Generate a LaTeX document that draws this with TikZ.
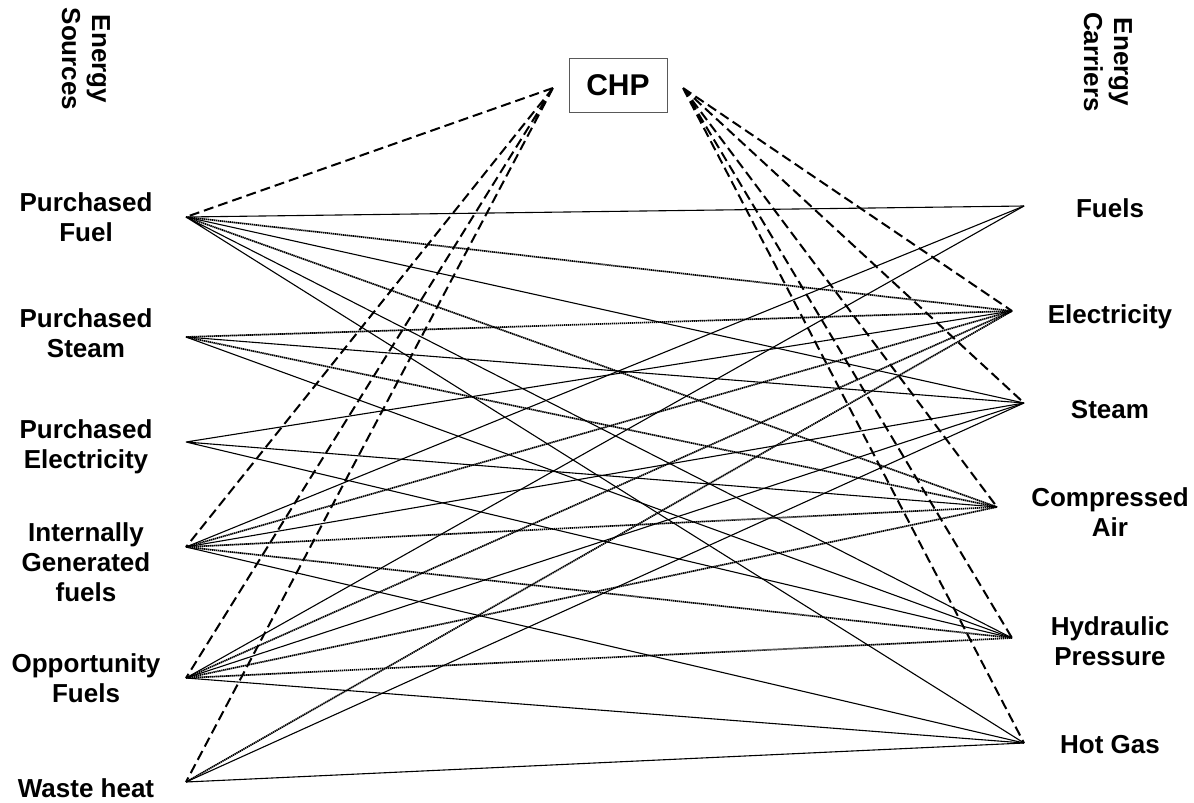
\documentclass[tikz,border=0pt]{standalone}
\usepackage{fontspec}
\setmainfont{Liberation Sans}
\usepackage{tikz}
\tikzstyle{item}=[align=center, font=\fontsize{26}{30}\selectfont\bfseries, inner sep=0pt]
\tikzstyle{heading}=[item, rotate=-90]
\tikzstyle{direct}=[line width=1.1pt]
\tikzstyle{converted}=[line width=1.7pt, dash pattern=on 1.4pt off .6pt]
\tikzstyle{cogen}=[line width=2pt, dash pattern=on 10pt off 5pt]

\begin{document}
\begin{tikzpicture}[x=1pt,y=-1pt]
    \useasboundingbox (0,0) rectangle (1194,803);

    % Headings
    \node[heading] (sources) at (86,59) {Energy\\Sources};
    \node[heading] (carriers) at (1108,62) {Energy\\Carriers};

    % CHP
    \node[item, draw=black!65, line width=1pt, minimum width=98pt, minimum height=54pt,
      font=\fontsize{30}{34}\selectfont\bfseries] (chp) at (618,85) {CHP};
    \coordinate (chp west) at (553,88);
    \coordinate (chp east) at (683,88);

    % Sources
    \node[item] (pf label) at (86,217) {Purchased\\Fuel};
    \node[item] (ps label) at (86,333) {Purchased\\Steam};
    \node[item] (pe label) at (86,447) {Purchased\\Electricity};
    \node[item] (ig label) at (86,562) {Internally\\Generated\\fuels};
    \node[item] (of label) at (86,678) {Opportunity\\Fuels};
    \node[item] (wh label) at (86,788) {Waste heat};
    \coordinate (pf) at (186,217);
    \coordinate (ps) at (186,337);
    \coordinate (pe) at (186,442);
    \coordinate (ig) at (186,547);
    \coordinate (of) at (186,678);
    \coordinate (wh) at (186,782);

    % Carriers
    \node[item] (fu label) at (1110,208) {Fuels};
    \node[item] (el label) at (1110,317) {Electricity};
    \node[item] (st label) at (1110,410) {Steam};
    \node[item] (ca label) at (1110,512) {Compressed\\Air};
    \node[item] (hp label) at (1110,641) {Hydraulic\\Pressure};
    \node[item] (hg label) at (1110,745) {Hot Gas};
    \coordinate (fu) at (1024,206);
    \coordinate (el) at (1012,311);
    \coordinate (st) at (1024,403);
    \coordinate (ca) at (997,507);
    \coordinate (hp) at (1012,638);
    \coordinate (hg) at (1024,743);

    % Direct supply
    \draw[direct] (pf) -- (fu) (pf) -- (st) (pf) -- (hp) (pf) -- (hg);
    \draw[direct] (ps) -- (st) (ps) -- (hp);
    \draw[direct] (pe) -- (el) (pe) -- (ca) (pe) -- (hp);
    \draw[direct] (ig) -- (fu) (ig) -- (st) (ig) -- (hg);
    \draw[direct] (of) -- (fu) (of) -- (st) (of) -- (hg);
    \draw[direct] (wh) -- (st) (wh) -- (hg);

    % Conversion
    \draw[converted] (pf) -- (el) (pf) -- (ca);
    \draw[converted] (ps) -- (el) (ps) -- (ca);
    \draw[converted] (ig) -- (el) (ig) -- (ca) (ig) -- (hp);
    \draw[converted] (of) -- (el) (of) -- (ca) (of) -- (hp);
    \draw[converted] (wh) -- (el);

    % Through CHP
    \draw[cogen] (chp west) -- (pf) (chp west) -- (ig) (chp west) -- (of) (chp west) -- (wh);
    \draw[cogen] (chp east) -- (el) (chp east) -- (st) (chp east) -- (ca)
      (chp east) -- (hp) (chp east) -- (hg);

\end{tikzpicture}
\end{document}
